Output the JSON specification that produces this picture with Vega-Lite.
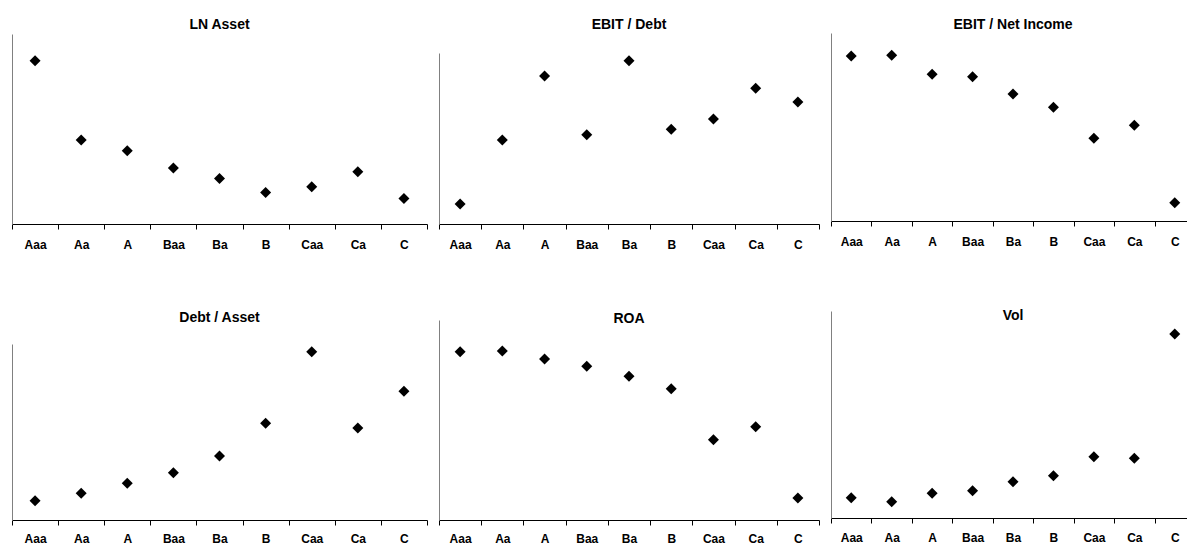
{
  "$schema": "https://vega.github.io/schema/vega-lite/v6.json",
  "padding": {"left": 11, "top": 18, "right": 0, "bottom": 0},
  "background": "white",
  "datasets": {
    "ratios": [
      {"panel": "LN Asset", "rating": "Aaa", "value": 163.3},
      {"panel": "LN Asset", "rating": "Aa", "value": 84},
      {"panel": "LN Asset", "rating": "A", "value": 73.3},
      {"panel": "LN Asset", "rating": "Baa", "value": 56},
      {"panel": "LN Asset", "rating": "Ba", "value": 45.6},
      {"panel": "LN Asset", "rating": "B", "value": 31.6},
      {"panel": "LN Asset", "rating": "Caa", "value": 37.3},
      {"panel": "LN Asset", "rating": "Ca", "value": 52.3},
      {"panel": "LN Asset", "rating": "C", "value": 25.6},
      {"panel": "EBIT / Debt", "rating": "Aaa", "value": 20},
      {"panel": "EBIT / Debt", "rating": "Aa", "value": 84},
      {"panel": "EBIT / Debt", "rating": "A", "value": 148},
      {"panel": "EBIT / Debt", "rating": "Baa", "value": 89.3},
      {"panel": "EBIT / Debt", "rating": "Ba", "value": 163.3},
      {"panel": "EBIT / Debt", "rating": "B", "value": 94.7},
      {"panel": "EBIT / Debt", "rating": "Caa", "value": 105},
      {"panel": "EBIT / Debt", "rating": "Ca", "value": 135.7},
      {"panel": "EBIT / Debt", "rating": "C", "value": 122},
      {"panel": "EBIT / Net Income", "rating": "Aaa", "value": 165},
      {"panel": "EBIT / Net Income", "rating": "Aa", "value": 165.7},
      {"panel": "EBIT / Net Income", "rating": "A", "value": 146.7},
      {"panel": "EBIT / Net Income", "rating": "Baa", "value": 144.3},
      {"panel": "EBIT / Net Income", "rating": "Ba", "value": 127},
      {"panel": "EBIT / Net Income", "rating": "B", "value": 113.7},
      {"panel": "EBIT / Net Income", "rating": "Caa", "value": 82.7},
      {"panel": "EBIT / Net Income", "rating": "Ca", "value": 95.7},
      {"panel": "EBIT / Net Income", "rating": "C", "value": 18.3},
      {"panel": "Debt / Asset", "rating": "Aaa", "value": 19.3},
      {"panel": "Debt / Asset", "rating": "Aa", "value": 26.7},
      {"panel": "Debt / Asset", "rating": "A", "value": 36.7},
      {"panel": "Debt / Asset", "rating": "Baa", "value": 47.3},
      {"panel": "Debt / Asset", "rating": "Ba", "value": 64},
      {"panel": "Debt / Asset", "rating": "B", "value": 96.7},
      {"panel": "Debt / Asset", "rating": "Caa", "value": 168.3},
      {"panel": "Debt / Asset", "rating": "Ca", "value": 92},
      {"panel": "Debt / Asset", "rating": "C", "value": 128.7},
      {"panel": "ROA", "rating": "Aaa", "value": 168.3},
      {"panel": "ROA", "rating": "Aa", "value": 169},
      {"panel": "ROA", "rating": "A", "value": 161},
      {"panel": "ROA", "rating": "Baa", "value": 153.7},
      {"panel": "ROA", "rating": "Ba", "value": 143.7},
      {"panel": "ROA", "rating": "B", "value": 131.3},
      {"panel": "ROA", "rating": "Caa", "value": 80.3},
      {"panel": "ROA", "rating": "Ca", "value": 93.3},
      {"panel": "ROA", "rating": "C", "value": 22},
      {"panel": "Vol", "rating": "Aaa", "value": 20.3},
      {"panel": "Vol", "rating": "Aa", "value": 16.3},
      {"panel": "Vol", "rating": "A", "value": 24.7},
      {"panel": "Vol", "rating": "Baa", "value": 27.3},
      {"panel": "Vol", "rating": "Ba", "value": 36.3},
      {"panel": "Vol", "rating": "B", "value": 42.3},
      {"panel": "Vol", "rating": "Caa", "value": 61.3},
      {"panel": "Vol", "rating": "Ca", "value": 59.7},
      {"panel": "Vol", "rating": "C", "value": 184}
    ]
  },
  "data": {"name": "ratios"},
  "spacing": 59,
  "vconcat": [
    {
      "spacing": 10,
      "hconcat": [
        {
          "width": 415, "height": 190,
          "title": {"text": "LN Asset", "offset": 2},
          "transform": [{"filter": "datum.panel == 'LN Asset'"}],
          "mark": {"type": "point", "shape": "diamond", "filled": true, "color": "black", "size": 121, "opacity": 1},
          "encoding": {
            "x": {"field": "rating", "type": "ordinal", "sort": ["Aaa", "Aa", "A", "Baa", "Ba", "B", "Caa", "Ca", "C"], "scale": {"type": "band", "paddingInner": 0, "paddingOuter": 0}, "axis": {"title": null, "labelPadding": 10}},
            "y": {"field": "value", "type": "quantitative", "scale": {"domain": [0, 190], "nice": false}, "axis": {"title": null}}
          }
        },
        {
          "width": 380, "height": 190,
          "title": {"text": "EBIT / Debt", "offset": 2},
          "transform": [{"filter": "datum.panel == 'EBIT / Debt'"}],
          "mark": {"type": "point", "shape": "diamond", "filled": true, "color": "black", "size": 121, "opacity": 1},
          "encoding": {
            "x": {"field": "rating", "type": "ordinal", "sort": ["Aaa", "Aa", "A", "Baa", "Ba", "B", "Caa", "Ca", "C"], "scale": {"type": "band", "paddingInner": 0, "paddingOuter": 0}, "axis": {"title": null, "labelPadding": 10}},
            "y": {"field": "value", "type": "quantitative", "scale": {"domain": [0, 171], "nice": false, "range": [190, 19]}, "axis": {"title": null}}
          }
        },
        {
          "width": 364, "height": 187,
          "title": {"text": "EBIT / Net Income", "offset": 2},
          "transform": [{"filter": "datum.panel == 'EBIT / Net Income'"}],
          "mark": {"type": "point", "shape": "diamond", "filled": true, "color": "black", "size": 121, "opacity": 1},
          "encoding": {
            "x": {"field": "rating", "type": "ordinal", "sort": ["Aaa", "Aa", "A", "Baa", "Ba", "B", "Caa", "Ca", "C"], "scale": {"type": "band", "paddingInner": 0, "paddingOuter": 0}, "axis": {"title": null, "labelPadding": 10}},
            "y": {"field": "value", "type": "quantitative", "scale": {"domain": [0, 188], "nice": false, "range": [187, -1]}, "axis": {"title": null}}
          }
        }
      ]
    },
    {
      "spacing": 10,
      "hconcat": [
        {
          "width": 415, "height": 209,
          "title": {"text": "Debt / Asset", "offset": -14},
          "transform": [{"filter": "datum.panel == 'Debt / Asset'"}],
          "mark": {"type": "point", "shape": "diamond", "filled": true, "color": "black", "size": 121, "opacity": 1},
          "encoding": {
            "x": {"field": "rating", "type": "ordinal", "sort": ["Aaa", "Aa", "A", "Baa", "Ba", "B", "Caa", "Ca", "C"], "scale": {"type": "band", "paddingInner": 0, "paddingOuter": 0}, "axis": {"title": null, "labelPadding": 8}},
            "y": {"field": "value", "type": "quantitative", "scale": {"domain": [0, 176], "nice": false, "range": [209, 33]}, "axis": {"title": null}}
          }
        },
        {
          "width": 380, "height": 209,
          "title": {"text": "ROA", "offset": -15},
          "transform": [{"filter": "datum.panel == 'ROA'"}],
          "mark": {"type": "point", "shape": "diamond", "filled": true, "color": "black", "size": 121, "opacity": 1},
          "encoding": {
            "x": {"field": "rating", "type": "ordinal", "sort": ["Aaa", "Aa", "A", "Baa", "Ba", "B", "Caa", "Ca", "C"], "scale": {"type": "band", "paddingInner": 0, "paddingOuter": 0}, "axis": {"title": null, "labelPadding": 8}},
            "y": {"field": "value", "type": "quantitative", "scale": {"domain": [0, 200], "nice": false, "range": [209, 9]}, "axis": {"title": null}}
          }
        },
        {
          "width": 364, "height": 207,
          "title": {"text": "Vol", "offset": -12},
          "transform": [{"filter": "datum.panel == 'Vol'"}],
          "mark": {"type": "point", "shape": "diamond", "filled": true, "color": "black", "size": 121, "opacity": 1},
          "encoding": {
            "x": {"field": "rating", "type": "ordinal", "sort": ["Aaa", "Aa", "A", "Baa", "Ba", "B", "Caa", "Ca", "C"], "scale": {"type": "band", "paddingInner": 0, "paddingOuter": 0}, "axis": {"title": null, "labelPadding": 9}},
            "y": {"field": "value", "type": "quantitative", "scale": {"domain": [0, 207], "nice": false}, "axis": {"title": null}}
          }
        }
      ]
    }
  ],
  "config": {
    "view": {"stroke": null},
    "title": {"font": "Liberation Sans", "fontSize": 14, "fontWeight": "bold", "color": "black", "baseline": "alphabetic", "anchor": "middle", "frame": "group"},
    "axisX": {"domainColor": "black", "domainWidth": 1, "tickColor": "black", "tickSize": 5, "tickBand": "extent", "labelFont": "Liberation Sans", "labelFontWeight": "bold", "labelFontSize": 12, "labelColor": "black", "labelAngle": 0, "grid": false, "labelBaseline": "top"},
    "axisY": {"domainColor": "#808080", "ticks": false, "labels": false, "grid": false}
  }
}
